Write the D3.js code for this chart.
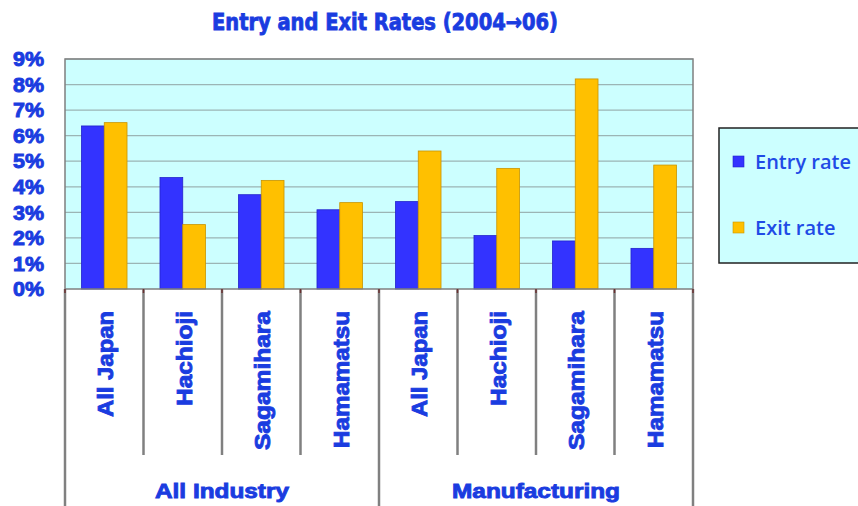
<!DOCTYPE html>
<html><head><meta charset="utf-8">
<script src="https://cdn.jsdelivr.net/npm/d3@7"></script>
<style>body{margin:0;background:#fff}svg{display:block}</style>
</head><body>
<svg id="c" width="858" height="506"></svg>
<script>
const title = "Entry and Exit Rates (2004\u219206)";
const groups = ["All Industry", "Manufacturing"];
const places = ["All Japan", "Hachioji", "Sagamihara", "Hamamatsu"];
const seriesNames = ["Entry rate", "Exit rate"];
const entryRate = [0.0638, 0.0436, 0.0369, 0.0310, 0.0342, 0.0209, 0.0188, 0.0159];
const exitRate  = [0.0651, 0.0252, 0.0425, 0.0338, 0.0540, 0.0472, 0.0822, 0.0485];
const yTicks = [0, 0.01, 0.02, 0.03, 0.04, 0.05, 0.06, 0.07, 0.08, 0.09];

const TXT = "#1a3ce0";
const colors = ["#3333ff", "#ffc000"];
const strokes = ["#2222cc", "#c99400"];
const svg = d3.select("#c");
const heavy = "'Liberation Sans', Arial, sans-serif";

const L = 65, R = 693, T = 59, B = 289;
const cats = [];
groups.forEach(g => places.forEach(p => cats.push({g, p, key: g + "|" + p})));
const x = d3.scaleBand().domain(cats.map(c => c.key)).range([L, R]).paddingInner(0.42).paddingOuter(0.21);
const xs = d3.scaleBand().domain(seriesNames).range([0, x.bandwidth()]);
const y = d3.scaleLinear().domain([0, 0.09]).range([B, T]);
const step = x.step();

// plot background
svg.append("rect").attr("x", L).attr("y", T).attr("width", R - L).attr("height", B - T).attr("fill", "#ccffff");
// gridlines
svg.append("g").selectAll("line").data(yTicks.slice(1)).join("line")
  .attr("x1", L).attr("x2", R).attr("y1", d => y(d)).attr("y2", d => y(d))
  .attr("stroke", "#9bb5b5").attr("stroke-width", 1.2);
// bars
const data = [entryRate, exitRate];
seriesNames.forEach((s, si) => {
  svg.append("g").selectAll("rect").data(cats).join("rect")
    .attr("x", (c) => x(c.key) + xs(s))
    .attr("y", (c, i) => y(data[si][i]))
    .attr("width", xs.bandwidth())
    .attr("height", (c, i) => B - y(data[si][i]))
    .attr("fill", colors[si]).attr("stroke", strokes[si]).attr("stroke-width", 0.8);
});
// plot border
svg.append("rect").attr("x", L).attr("y", T).attr("width", R - L).attr("height", B - T)
  .attr("fill", "none").attr("stroke", "#7f7f7f").attr("stroke-width", 1.5);

// y tick labels
svg.append("g").selectAll("text").data(yTicks).join("text")
  .attr("x", 44).attr("y", d => y(d)).attr("dy", "0.36em")
  .attr("text-anchor", "end")
  .attr("font-family", heavy).attr("font-weight", "bold").attr("font-size", 20)
  .attr("fill", TXT).attr("stroke", TXT).attr("stroke-width", 0.9)
  .attr("textLength", 31).attr("lengthAdjust", "spacingAndGlyphs")
  .text(d => d3.format(".0%")(d));

// separators
const seps = d3.range(cats.length + 1);
svg.append("g").selectAll("line").data(seps).join("line")
  .attr("x1", i => L + i * step).attr("x2", i => L + i * step)
  .attr("y1", B).attr("y2", i => (i % places.length === 0) ? 506 : 455)
  .attr("stroke", "#808080").attr("stroke-width", 2.5);
svg.append("g").selectAll("line").data(seps).join("line")
  .attr("x1", i => L + i * step).attr("x2", i => L + i * step)
  .attr("y1", B).attr("y2", B + 4)
  .attr("stroke", "#6a3030").attr("stroke-width", 1.5);

// category labels (rotated)
const catLen = {"All Japan": 106, "Hachioji": 95, "Sagamihara": 139, "Hamamatsu": 137};
svg.append("g").selectAll("text").data(cats).join("text")
  .attr("transform", c => `translate(${x(c.key) + x.bandwidth() / 2 + 1},311) rotate(-90)`)
  .attr("dy", "0.36em").attr("text-anchor", "end")
  .attr("font-family", heavy).attr("font-weight", "bold").attr("font-size", 22)
  .attr("fill", TXT).attr("stroke", TXT).attr("stroke-width", 0.9)
  .attr("textLength", c => catLen[c.p]).attr("lengthAdjust", "spacingAndGlyphs")
  .text(c => c.p);

// group labels
const gLen = {"All Industry": 134, "Manufacturing": 168};
svg.append("g").selectAll("text").data(groups).join("text")
  .attr("x", (g, i) => L + (i * places.length + places.length / 2) * step)
  .attr("y", 490).attr("dy", "0.36em").attr("text-anchor", "middle")
  .attr("font-family", heavy).attr("font-weight", "bold").attr("font-size", 21)
  .attr("fill", TXT).attr("stroke", TXT).attr("stroke-width", 0.9)
  .attr("textLength", g => gLen[g]).attr("lengthAdjust", "spacingAndGlyphs")
  .text(g => g);

// title
svg.append("text").attr("x", 385).attr("y", 22).attr("dy", "0.36em").attr("text-anchor", "middle")
  .attr("font-family", "'DejaVu Sans Condensed', 'DejaVu Sans', sans-serif").attr("font-weight", "bold").attr("font-size", 23)
  .attr("fill", TXT).attr("stroke", TXT).attr("stroke-width", 0.8)
  .attr("textLength", 346).attr("lengthAdjust", "spacingAndGlyphs")
  .text(title);

// legend
const lg = svg.append("g");
lg.append("rect").attr("x", 719).attr("y", 128).attr("width", 150).attr("height", 135)
  .attr("fill", "#ccffff").attr("stroke", "#222").attr("stroke-width", 1.5);
const legY = [162, 228];
seriesNames.forEach((s, i) => {
  lg.append("rect").attr("x", 733).attr("y", legY[i] - 6).attr("width", 11).attr("height", 11)
    .attr("fill", colors[i]).attr("stroke", strokes[i]).attr("stroke-width", 0.6);
  lg.append("text").attr("x", 755).attr("y", legY[i]).attr("dy", "0.36em")
    .attr("font-family", "'Open Sans', 'Noto Sans', sans-serif").attr("font-size", 20).attr("font-weight", 600)
    .attr("fill", "#1f4be6").text(s);
});
</script>
</body></html>
